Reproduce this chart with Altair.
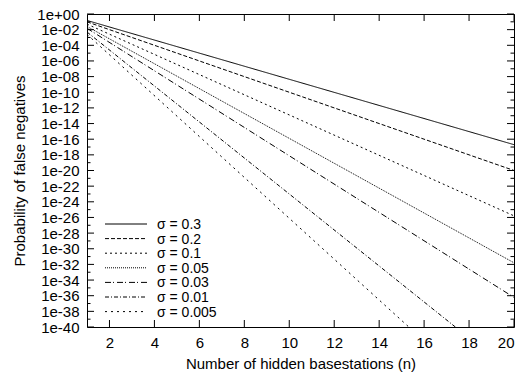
import altair as alt
import pandas as pd

# ---- data ----
series = ["σ = 0.3", "σ = 0.2", "σ = 0.1", "σ = 0.05", "σ = 0.03", "σ = 0.01", "σ = 0.005"]
n_start = [1, 1, 1, 1, 1, 1, 1]
n_end = [20, 20, 20, 20, 20, 20, 20]
p_start = [1.5e-1, 1.0e-1, 5.1e-2, 2.6e-2, 1.5e-2, 5.0e-3, 2.5e-3]
p_end = [2.0e-17, 1.0e-20, 1.6e-26, 1.6e-32, 6.0e-37, 1.0e-46, 6.0e-53]
dashes = [[1, 0], [4, 2], [2, 3], [1, 1], [6, 2, 1, 3], [4, 2, 1, 2], [2, 4]]

x_ticks = [2, 4, 6, 8, 10, 12, 14, 16, 18, 20]
y_major_exp = [0, -2, -4, -6, -8, -10, -12, -14, -16, -18, -20, -22, -24, -26, -28, -30, -32, -34, -36, -38, -40]
y_minor_exp = [-1, -3, -5, -7, -9, -11, -13, -15, -17, -19, -21, -23, -25, -27, -29, -31, -33, -35, -37, -39]

W, H = 427, 313
FONT = "Liberation Sans"

xscale = alt.Scale(domain=[1, 20], nice=False, zero=False)
yscale = alt.Scale(type="log", domain=[1e-40, 1], nice=False)

y_major = [10.0 ** e for e in y_major_exp]
y_minor = [10.0 ** e for e in y_minor_exp]

label_expr = ("'1e' + (round(log(datum.value)/LN10) < 0 ? '-' : '+') + "
              "(abs(round(log(datum.value)/LN10)) < 10 ? '0' : '') + "
              "abs(round(log(datum.value)/LN10))")

xaxis = alt.Axis(values=x_ticks, ticks=False, domain=False, grid=False,
                 labelFont=FONT, labelFontSize=15, labelColor="black", labelPadding=8,
                 title="Number of hidden basestations (n)", titleFont=FONT,
                 titleFontSize=15, titleFontWeight="normal", titleColor="black",
                 titlePadding=6)
yaxis = alt.Axis(values=y_major, ticks=False, domain=False, grid=False,
                 labelExpr=label_expr, labelFont=FONT, labelFontSize=15,
                 labelColor="black", labelPadding=8, labelOverlap=False,
                 title="Probability of false negatives", titleFont=FONT,
                 titleFontSize=15, titleFontWeight="normal", titleColor="black",
                 titlePadding=9)


def X():
    return alt.X("n:Q", scale=xscale, axis=xaxis)


def Y():
    return alt.Y("p:Q", scale=yscale, axis=yaxis)


layers = []

# curves
for i, s in enumerate(series):
    df = pd.DataFrame({"n": [n_start[i], n_end[i]], "p": [p_start[i], p_end[i]]})
    layers.append(
        alt.Chart(df).mark_line(color="black", strokeWidth=1, strokeDash=dashes[i], clip=True)
        .encode(x=X(), y=Y())
    )

# tick marks (inside, mirrored)
xt = pd.DataFrame({"n": x_ticks})
layers.append(alt.Chart(xt).mark_rule(color="black", strokeWidth=1).encode(
    x=X(), y=alt.value(H), y2=alt.value(H - 7)))
layers.append(alt.Chart(xt).mark_rule(color="black", strokeWidth=1).encode(
    x=X(), y=alt.value(0), y2=alt.value(7)))

ymaj = pd.DataFrame({"p": y_major})
ymin = pd.DataFrame({"p": y_minor})
for dfp, L in [(ymaj, 7), (ymin, 3.5)]:
    layers.append(alt.Chart(dfp).mark_rule(color="black", strokeWidth=1).encode(
        y=Y(), x=alt.value(0), x2=alt.value(L)))
    layers.append(alt.Chart(dfp).mark_rule(color="black", strokeWidth=1).encode(
        y=Y(), x=alt.value(W), x2=alt.value(W - L)))

# legend (inside, lower left)
leg_top = 210
leg_step = 14.6
for i, s in enumerate(series):
    yy = leg_top + leg_step * i
    layers.append(alt.Chart(pd.DataFrame({"k": [0]})).mark_rule(
        color="black", strokeWidth=1, strokeDash=dashes[i]).encode(
        x=alt.value(18), x2=alt.value(60), y=alt.value(yy)))
    layers.append(alt.Chart(pd.DataFrame({"k": [0]})).mark_text(
        align="left", baseline="middle", font=FONT, fontSize=14, color="black").encode(
        x=alt.value(70), y=alt.value(yy + 1), text=alt.value(s)))

chart = alt.layer(*layers).properties(
    width=W, height=H,
    autosize=alt.AutoSizeParams(type="none"),
    padding={"left": 87, "top": 14, "right": 11, "bottom": 47},
    background="white",
).configure_view(stroke="black", strokeWidth=1)

chart.save("out.html", embed_options={"renderer": "svg", "actions": False})
